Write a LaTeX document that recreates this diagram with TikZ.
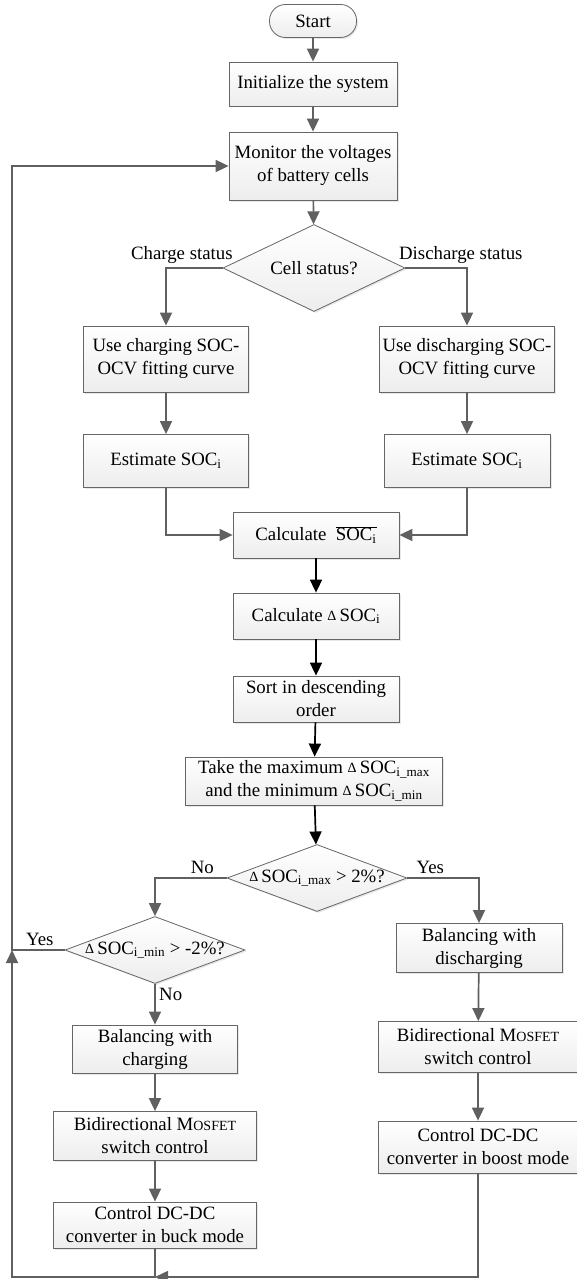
\documentclass[tikz,border=0pt]{standalone}
\usepackage{fontspec}
\setmainfont{Liberation Serif}
\usetikzlibrary{shapes.geometric,arrows.meta,shadows}
\newcommand{\dsoc}{{\fontsize{14}{14}\selectfont\raisebox{1pt}{Δ}}\,SOC}
\newcommand{\mosfet}{M{\fontsize{14}{14}\selectfont OSFET}}

\begin{document}
\begin{tikzpicture}[x=1pt,y=-1pt,
  font=\fontsize{18.8}{23}\selectfont,
  box/.style={draw=gray!80!black, line width=0.8pt, top color=white, bottom color=gray!14,
    align=center, inner sep=1pt, drop shadow={shadow xshift=1.5pt, shadow yshift=-1.5pt, fill=gray!35}},
  dec/.style={box, diamond, aspect=2.7, inner sep=0pt},
  flow/.style={draw=gray!75!black, line width=1.7pt, -{Triangle[length=13pt,width=12pt]}},
  bflow/.style={flow, draw=black},
  line/.style={draw=gray!75!black, line width=1.7pt}]
  \useasboundingbox (0,0) rectangle (577,1279);

  \node[box, rounded corners=16pt, minimum width=87pt, minimum height=33pt] (start) at (313,21) {Start};
  \node[box, minimum width=168pt, minimum height=44pt] (init) at (313,84) {Initialize the system};
  \node[box, minimum width=168pt, minimum height=68pt] (mon) at (313,166) {Monitor the voltages\\of battery cells};
  \node[dec, minimum width=182pt, minimum height=87pt] (cell) at (314,268) {\makebox[0pt]{Cell status?}};
  \node[box, minimum width=165pt, minimum height=66pt] (usec) at (166,359) {Use charging SOC-\\OCV fitting curve};
  \node[box, minimum width=175pt, minimum height=66pt] (used) at (467,359) {Use discharging SOC-\\OCV fitting curve};
  \node[box, minimum width=165pt, minimum height=53pt] (estc) at (166,461) {Estimate SOC\textsubscript{i}};
  \node[box, minimum width=166pt, minimum height=53pt] (estd) at (467,461) {Estimate SOC\textsubscript{i}};
  \node[box, minimum width=166pt, minimum height=46pt] (avg) at (316,535) {Calculate \ $\overline{\mbox{SOC\textsubscript{i}}}$};
  \node[box, minimum width=166pt, minimum height=46pt] (dsoc) at (316,616) {Calculate \dsoc\textsubscript{i}};
  \node[box, minimum width=166pt, minimum height=46pt] (sort) at (316,699) {Sort in descending\\order};
  \node[box, minimum width=257pt, minimum height=48pt] (take) at (314,781) {Take the maximum \dsoc\textsubscript{i\_max}\\and the minimum \dsoc\textsubscript{i\_min}};
  \node[dec, minimum width=180pt, minimum height=67pt] (dmax) at (317,878) {\makebox[0pt]{\dsoc\textsubscript{i\_max} > 2\%?}};
  \node[dec, minimum width=180pt, minimum height=67pt] (dmin) at (155,950) {\makebox[0pt]{\dsoc\textsubscript{i\_min} > -2\%?}};
  \node[box, minimum width=166pt, minimum height=49pt] (bdis) at (479,948) {Balancing with\\discharging};
  \node[box, minimum width=200pt, minimum height=51pt] (mosd) at (478,1047) {Bidirectional \mosfet\\switch control};
  \node[box, minimum width=200pt, minimum height=52pt] (boost) at (478,1147) {Control DC-DC\\converter in boost mode};
  \node[box, minimum width=165pt, minimum height=48pt] (bch) at (155,1049) {Balancing with\\charging};
  \node[box, minimum width=203pt, minimum height=49pt] (mosc) at (155,1136) {Bidirectional \mosfet\\switch control};
  \node[box, minimum width=203pt, minimum height=46pt] (buck) at (155,1225) {Control DC-DC\\converter in buck mode};

  \coordinate (bot) at (155,1277);
  \coordinate (bl) at (12,1277);
  \coordinate (jn) at (12,950);

  \draw[flow] (start) -- (init);
  \draw[flow] (init) -- (mon);
  \draw[flow] (mon) -- (cell);
  \draw[flow] (cell.west) -| node[pos=0.36, above] {Charge status} (usec.north);
  \draw[flow] (cell.east) -| node[pos=0.45, above] {Discharge status} (used.north);
  \draw[flow] (usec) -- (estc);
  \draw[flow] (used) -- (estd);
  \draw[flow] (estc.south) |- (avg.west);
  \draw[flow] (estd.south) |- (avg.east);
  \draw[bflow] (avg) -- (dsoc);
  \draw[bflow] (dsoc) -- (sort);
  \draw[bflow] (sort) -- (take);
  \draw[bflow] (take) -- (dmax);
  \draw[flow] (dmax.west) -| node[pos=0.17, above] {No} (dmin.north);
  \draw[flow] (dmax.east) -| node[pos=0.16, above] {Yes} (bdis.north);
  \draw[flow] (dmin.south) -- node[pos=0.25, right] {No} (bch);
  \draw[flow] (bch) -- (mosc);
  \draw[flow] (mosc) -- (buck);
  \draw[flow] (bdis) -- (mosd);
  \draw[flow] (mosd) -- (boost);
  \draw[flow] (dmin.west) -- node[pos=0.47, above] {Yes} (jn) |- (mon.west);
  \draw[flow] (buck) -- (bot) -- (bl) -- (jn);
  \draw[flow] (boost) |- (bot);
\end{tikzpicture}
\end{document}
